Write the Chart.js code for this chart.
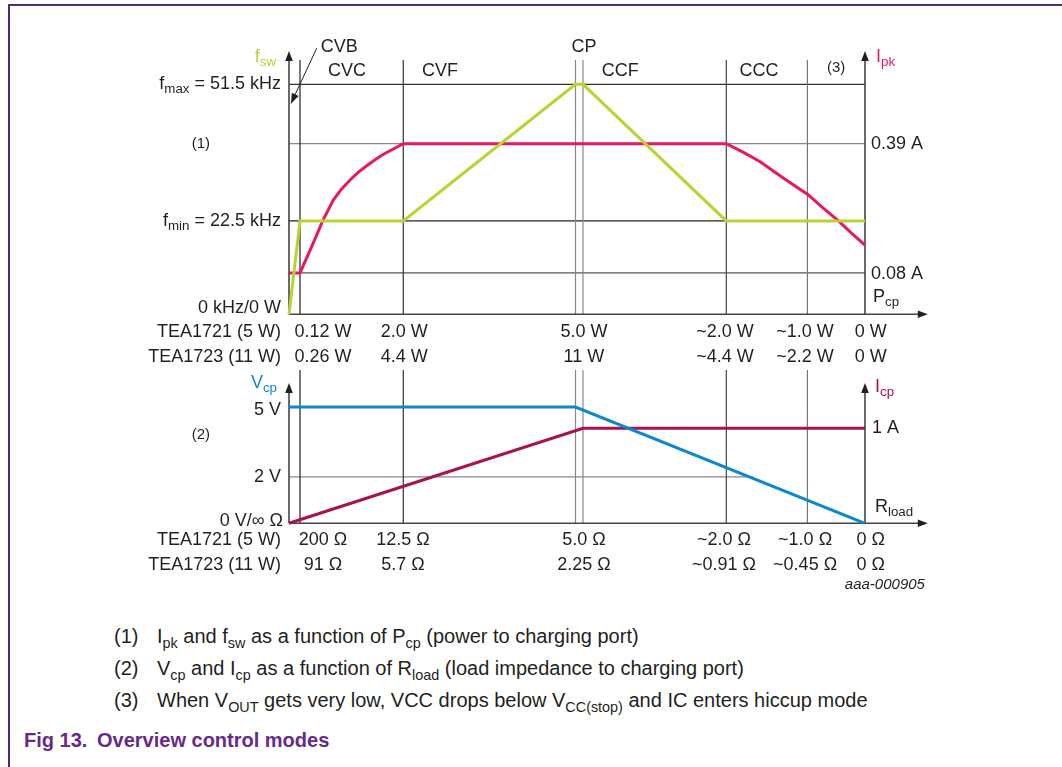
<!DOCTYPE html>
<html>
<head>
<meta charset="utf-8">
<script src="https://cdn.jsdelivr.net/npm/chart.js@4.4.1/dist/chart.umd.min.js"></script>
<style>
  html,body{margin:0;padding:0;background:#fff;}
  body{width:1062px;height:767px;position:relative;overflow:hidden;
       font-family:"Liberation Sans",Arial,sans-serif;color:#231f20;}
  #frame{position:absolute;left:8px;top:4px;right:-4px;bottom:-4px;
         border-top:2px solid #4e2a7c;border-left:2px solid #4e2a7c;}
  .box{position:absolute;left:0;width:1062px;}
  #topBox{top:0;height:372px;}
  #botBox{top:360px;height:240px;}
  .note{position:absolute;left:114px;font-size:20px;line-height:24px;white-space:nowrap;}
  .note .n{display:inline-block;width:43px;}
  sub{font-size:72%;vertical-align:-0.35em;line-height:0;}
  #fig{position:absolute;left:24px;top:729px;font-weight:bold;font-size:20px;color:#672a8a;white-space:nowrap;}
  #fig .n{display:inline-block;width:73px;}
</style>
</head>
<body>
<div id="frame"></div>
<div class="box" id="topBox"><canvas id="topChart"></canvas></div>
<div class="box" id="botBox"><canvas id="botChart"></canvas></div>

<div class="note" style="top:624px"><span class="n">(1)</span>I<sub>pk</sub> and f<sub>sw</sub> as a function of P<sub>cp</sub> (power to charging port)</div>
<div class="note" style="top:656px"><span class="n">(2)</span>V<sub>cp</sub> and I<sub>cp</sub> as a function of R<sub>load</sub> (load impedance to charging port)</div>
<div class="note" style="top:688px"><span class="n">(3)</span>When V<sub>OUT</sub> gets very low, VCC drops below V<sub>CC(stop)</sub> and IC enters hiccup mode</div>
<div id="fig"><span class="n">Fig 13.</span>Overview control modes</div>

<script>
/* ---------- helpers ---------- */
const FONT = '"Liberation Sans", Arial, sans-serif';
const INK  = '#231f20';
const col  = {fsw:'#b8d432', ipk:'#e8185c', vcp:'#0b88cf', icp:'#a8124f'};

/* ---------- data : schematic x (0 = left axis, 100 = right axis) ---------- */
// mode boundaries  CVB | CVC | CVF | CP CP | CCF | CCC | (3)
const boundaryX = [1.91, 19.84, 49.74, 51.04, 75.92, 90.0];

// top panel, schematic level (0 = axis, 100 = fmax)
const fswX     = [0, 1.91, 19.84, 49.74, 51.04, 75.92, 100];
const fswLevel = [0, 40.6, 40.6, 100, 100, 40.6, 40.6];
const ipkX     = [0, 1.91, 3.94, 5.85, 7.69, 9.1, 10.6, 12.0, 13.5, 15.0, 16.4, 19.84,
                  75.92, 78.9, 81.8, 85.8, 90.0, 92.8, 95.4, 97.7, 100];
const ipkLevel = [18, 18, 29.4, 40.6, 49.7, 54.4, 58.4, 61.7, 64.6, 67.3, 69.6, 74.2,
                  74.2, 70.4, 66.3, 59.3, 52.2, 46.1, 40.6, 35.2, 30.1];
const topLevels = [100, 74.2, 40.6, 18];             // fmax, 0.39 A, fmin, 0.08 A

const pcp5W  = ['0.12 W', '2.0 W', '5.0 W', '~2.0 W', '~1.0 W', '0 W'];
const pcp11W = ['0.26 W', '4.4 W', '11 W', '~4.4 W', '~2.2 W', '0 W'];
const pcpAt  = [5.9, 20.0, 51.2, 75.7, 89.6, 101.0];

// bottom panel, volts / amps
const vcpX = [0, 49.74, 100];
const vcpV = [5, 5, 0];
const icpX = [0, 51.04, 100];
const icpA = [0, 1, 1];

const rl5W  = ['200 Ω', '12.5 Ω', '5.0 Ω', '~2.0 Ω', '~1.0 Ω', '0 Ω'];
const rl11W = ['91 Ω', '5.7 Ω', '2.25 Ω', '~0.91 Ω', '~0.45 Ω', '0 Ω'];
const rlAt  = [5.9, 19.8, 51.2, 75.5, 89.6, 101.0];

const modeNames = ['CVB', 'CVC', 'CVF', 'CP', 'CCF', 'CCC'];

/* ---------- drawing helpers ---------- */
function rich(ctx, parts, x, y, align, color, size){
  size = size || 18;
  const sub = size * 0.74;
  const w = parts.map(([t, s]) => { ctx.font = `${s ? sub : size}px ${FONT}`; return ctx.measureText(t).width; });
  const total = w.reduce((a, b) => a + b, 0);
  let cx = align === 'right' ? x - total : align === 'center' ? x - total / 2 : x;
  ctx.fillStyle = color || INK; ctx.textAlign = 'left'; ctx.textBaseline = 'middle';
  parts.forEach(([t, s], i) => {
    ctx.font = `${s ? sub : size}px ${FONT}`;
    ctx.fillText(t, cx, s ? y + size * 0.3 : y);
    cx += w[i];
  });
}
function line(ctx, x1, y1, x2, y2, color, w){
  ctx.beginPath(); ctx.moveTo(x1, y1); ctx.lineTo(x2, y2);
  ctx.strokeStyle = color; ctx.lineWidth = w || 1; ctx.stroke();
}
function head(ctx, x, y, ang, color){      // filled arrow head, tip at x,y
  ctx.save(); ctx.translate(x, y); ctx.rotate(ang);
  ctx.beginPath(); ctx.moveTo(0, 0); ctx.lineTo(-10, -3.8); ctx.lineTo(-10, 3.8); ctx.closePath();
  ctx.fillStyle = color || INK; ctx.fill(); ctx.restore();
}
const gridCol = ['#222', '#333', '#888', '#888', '#444', '#777'];

const pts = (xs, ys) => xs.map((x, i) => ({x, y: ys[i]}));
const lineDs = (label, data, color, axis) => ({label, data, borderColor: color, borderWidth: 3,
  pointRadius: 0, tension: 0, fill: false, clip: false, yAxisID: axis || 'y'});
const baseOpts = (bottomPad, topPad, yScales) => ({
  responsive: true, maintainAspectRatio: false, animation: false, events: [],
  layout: {padding: {left: 289, right: 197, top: topPad, bottom: bottomPad}},
  plugins: {legend: {display: false}, tooltip: {enabled: false}},
  scales: Object.assign({x: {type: 'linear', min: 0, max: 100, display: false}}, yScales)
});

/* ==========================================================
   1 · f_sw and I_pk vs P_cp
   ========================================================== */
const topDecor = {
  id: 'topDecor',
  beforeDatasetsDraw(c){
    const ctx = c.ctx, X = v => c.scales.x.getPixelForValue(v), Y = v => c.scales.y.getPixelForValue(v);
    ctx.save();
    const hc = ['#333', '#888', '#222', '#555'];
    topLevels.forEach((l, i) => line(ctx, X(0), Y(l), X(100), Y(l), hc[i], 1.2));
    boundaryX.forEach((b, i) => line(ctx, X(b), Y(110.6), X(b), Y(0), gridCol[i], 1.2));
    // axes
    line(ctx, X(0), Y(0), X(0), Y(113), '#444', 1.6);
    line(ctx, X(100), Y(0), X(100), Y(113), '#444', 1.6);
    line(ctx, X(0), Y(0), X(110), Y(0), '#444', 1.6);
    head(ctx, X(0), Y(114.5), -Math.PI / 2);
    head(ctx, X(100), Y(114.5), -Math.PI / 2);
    head(ctx, X(110.9), Y(0), 0);
    ctx.restore();
  },
  afterDatasetsDraw(c){
    const ctx = c.ctx, X = v => c.scales.x.getPixelForValue(v), Y = v => c.scales.y.getPixelForValue(v);
    const L = X(0) - 8, R = X(100) + 6;
    ctx.save();
    rich(ctx, [['f'], ['sw', 1]], X(0) - 13, Y(112), 'right', col.fsw);
    rich(ctx, [['f'], ['max', 1], [' = 51.5 kHz']], L, Y(100), 'right');
    rich(ctx, [['f'], ['min', 1], [' = 22.5 kHz']], L, Y(40.6), 'right');
    rich(ctx, [['0 kHz/0 W']], L, Y(2.6), 'right');
    rich(ctx, [['(1)']], X(-15.3), Y(74.2), 'center', INK, 15);
    rich(ctx, [['I'], ['pk', 1]], X(100) + 11, Y(112), 'left', col.ipk);
    rich(ctx, [['0.39 A']], R, Y(74.2), 'left');
    rich(ctx, [['0.08 A']], R, Y(17.5), 'left');
    rich(ctx, [['P'], ['cp', 1]], X(100) + 8, Y(7.7), 'left');
    // mode names
    const mx = [5.5, 10.07, 26.2, 51.2, 57.5, 81.6], ml = [116.3, 105.9, 105.9, 116.3, 105.9, 105.9];
    modeNames.forEach((m, i) => rich(ctx, [[m]], X(mx[i]), Y(ml[i]), i ? 'center' : 'left'));
    rich(ctx, [['(3)']], X(95.0), Y(107.2), 'center', INK, 15);
    // CVB pointer
    const x1 = X(4.81), y1 = Y(115.7), x2 = X(0.35), y2 = Y(91.7);
    line(ctx, x1, y1, x2, y2, INK, 1);
    head(ctx, x2, y2, Math.atan2(y2 - y1, x2 - x1));
    // power rows
    rich(ctx, [['TEA1721 (5 W)']], L, Y(-7.8), 'right');
    rich(ctx, [['TEA1723 (11 W)']], L, Y(-18.4), 'right');
    pcpAt.forEach((x, i) => {
      rich(ctx, [[pcp5W[i]]], X(x), Y(-7.8), 'center');
      rich(ctx, [[pcp11W[i]]], X(x), Y(-18.4), 'center');
    });
    ctx.restore();
  }
};

new Chart(document.getElementById('topChart'), {
  type: 'line',
  data: {datasets: [
    lineDs('fsw', pts(fswX, fswLevel), col.fsw),
    lineDs('Ipk', pts(ipkX, ipkLevel), col.ipk)
  ]},
  options: baseOpts(372 - 314.3, 84.3, {y: {min: 0, max: 100, display: false}}),
  plugins: [topDecor]
});

/* ==========================================================
   2 · V_cp and I_cp vs R_load
   ========================================================== */
const botDecor = {
  id: 'botDecor',
  beforeDatasetsDraw(c){
    const ctx = c.ctx, X = v => c.scales.x.getPixelForValue(v), Y = v => c.scales.y.getPixelForValue(v);
    ctx.save();
    line(ctx, X(0), Y(2), X(80.6), Y(2), '#888', 1.2);
    boundaryX.forEach((b, i) => line(ctx, X(b), Y(6.59), X(b), Y(0), gridCol[i], 1.2));
    line(ctx, X(0), Y(0), X(0), Y(5.65), '#444', 1.6);
    line(ctx, X(100), Y(0), X(100), Y(5.65), '#444', 1.6);
    line(ctx, X(0), Y(0), X(110), Y(0), '#444', 1.6);
    head(ctx, X(0), Y(6.03), -Math.PI / 2);
    head(ctx, X(100), Y(6.03), -Math.PI / 2);
    head(ctx, X(110.9), Y(0), 0);
    ctx.restore();
  },
  afterDatasetsDraw(c){
    const ctx = c.ctx, X = v => c.scales.x.getPixelForValue(v), Y = v => c.scales.y.getPixelForValue(v);
    const L = X(0) - 8, R = X(100) + 7;
    ctx.save();
    rich(ctx, [['V'], ['cp', 1]], X(0) - 12, Y(6.03), 'right', col.vcp);
    rich(ctx, [['5 V']], L, Y(4.87), 'right');
    rich(ctx, [['2 V']], L, Y(2), 'right');
    rich(ctx, [['0 V/∞ Ω']], X(0) - 6, Y(0.1), 'right');
    rich(ctx, [['(2)']], X(-15.3), Y(3.8), 'center', INK, 15);
    rich(ctx, [['I'], ['cp', 1]], X(100) + 10, Y(5.87), 'left', col.icp);
    rich(ctx, [['1 A']], R, c.scales.yI.getPixelForValue(1), 'left');
    rich(ctx, [['R'], ['load', 1]], X(100) + 10, Y(0.71), 'left');
    rich(ctx, [['TEA1721 (5 W)']], L, Y(-0.72), 'right');
    rich(ctx, [['TEA1723 (11 W)']], L, Y(-1.79), 'right');
    rlAt.forEach((x, i) => {
      rich(ctx, [[rl5W[i]]], X(x), Y(-0.72), 'center');
      rich(ctx, [[rl11W[i]]], X(x), Y(-1.79), 'center');
    });
    ctx.font = `italic 15px ${FONT}`; ctx.textAlign = 'right'; ctx.fillStyle = INK;
    ctx.fillText('aaa-000905', X(110.4), Y(-2.65));
    ctx.restore();
  }
};

new Chart(document.getElementById('botChart'), {
  type: 'line',
  data: {datasets: [
    lineDs('Vcp', pts(vcpX, vcpV), col.vcp, 'y'),
    lineDs('Icp', pts(icpX, icpA), col.icp, 'yI')
  ]},
  options: baseOpts(240 - 163.3, 47, {
    y:  {min: 0, max: 5, display: false},
    yI: {min: 0, max: 1.224, display: false}
  }),
  plugins: [botDecor]
});
</script>
</body>
</html>
